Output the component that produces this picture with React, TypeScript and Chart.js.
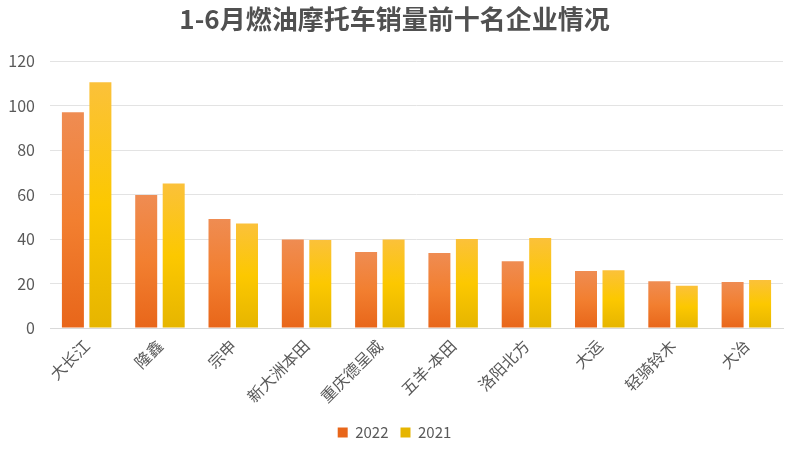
import React, { useEffect, useRef } from "react";
import { Chart, registerables } from "chart.js";

Chart.register(...registerables);

const categories = ["大长江", "隆鑫", "宗申", "新大洲本田", "重庆德呈威", "五羊-本田", "洛阳北方", "大运", "轻骑铃木", "大冶"];
const values2022 = [97, 59.8, 49, 39.8, 34.2, 33.7, 30, 25.6, 21, 20.7];
const values2021 = [110.5, 65, 47, 39.6, 39.8, 40, 40.5, 26, 19, 21.6];
const yTicks = [0, 20, 40, 60, 80, 100, 120];

const FONT = "'Noto Sans CJK SC', 'Noto Sans', sans-serif";
const TEXT = "#595959";

function grad(stops: [number, string][], solid: string) {
  return (ctx: any) => {
    if (ctx.type !== "data") return solid;
    const chart = ctx.chart;
    const y = chart.scales?.y;
    if (!y) return solid;
    const v = ctx.raw as number;
    const top = y.getPixelForValue(v);
    const bottom = y.getPixelForValue(0);
    if (!isFinite(top) || !isFinite(bottom) || bottom - top < 1) return solid;
    const g = chart.ctx.createLinearGradient(0, top, 0, bottom);
    stops.forEach(([o, c]) => g.addColorStop(o, c));
    return g;
  };
}

export default function App() {
  const ref = useRef<HTMLCanvasElement | null>(null);
  useEffect(() => {
    document.body.style.margin = "0";
    if (!ref.current) return;
    const chart = new Chart(ref.current, {
      type: "bar",
      data: {
        labels: categories,
        datasets: [
          {
            label: "2022",
            data: values2022,
            backgroundColor: grad(
              [
                [0, "#EF8C52"],
                [0.5, "#F27F30"],
                [1, "#E8661A"],
              ],
              "#E8782A"
            ),
          },
          {
            label: "2021",
            data: values2021,
            backgroundColor: grad(
              [
                [0, "#FBC13A"],
                [0.5, "#FCC800"],
                [1, "#E6B500"],
              ],
              "#F2C200"
            ),
          },
        ],
      },
      options: {
        responsive: false,
        animation: false,
        layout: { padding: { left: 6, right: 17, top: 0, bottom: 1 } },
        datasets: { bar: { categoryPercentage: 0.75, barPercentage: 0.8 } },
        plugins: {
          title: {
            display: true,
            text: "1-6月燃油摩托车销量前十名企业情况",
            color: "#505050",
            font: { family: FONT, size: 26, weight: "bold" },
            padding: { top: 4, bottom: 26 },
          },
          legend: {
            position: "bottom",
            labels: {
              color: TEXT,
              font: { family: FONT, size: 15 },
              boxWidth: 10,
              boxHeight: 10,
              padding: 12,
            },
          },
          tooltip: { enabled: false },
        },
        scales: {
          x: {
            grid: { display: false },
            border: { display: true, color: "#D9D9D9" },
            afterFit: (axis: any) => {
              axis.paddingLeft = 0;
              axis.paddingRight = 0;
              axis.height = 85;
            },
            ticks: {
              color: TEXT,
              font: { family: FONT, size: 16 },
              minRotation: 45,
              maxRotation: 45,
              autoSkip: false,
              padding: 0,
            },
          },
          y: {
            min: 0,
            max: 120,
            afterBuildTicks: (axis: any) => {
              axis.ticks = yTicks.map((v) => ({ value: v }));
            },
            afterFit: (axis: any) => {
              axis.width = 44;
            },
            grid: { color: "#E3E3E3", drawTicks: false },
            border: { display: false },
            ticks: {
              color: TEXT,
              font: { family: FONT, size: 16 },
              padding: 15,
            },
          },
        },
      },
    } as any);
    return () => chart.destroy();
  }, []);
  return <canvas ref={ref} width={800} height={451} style={{ display: "block" }} />;
}
